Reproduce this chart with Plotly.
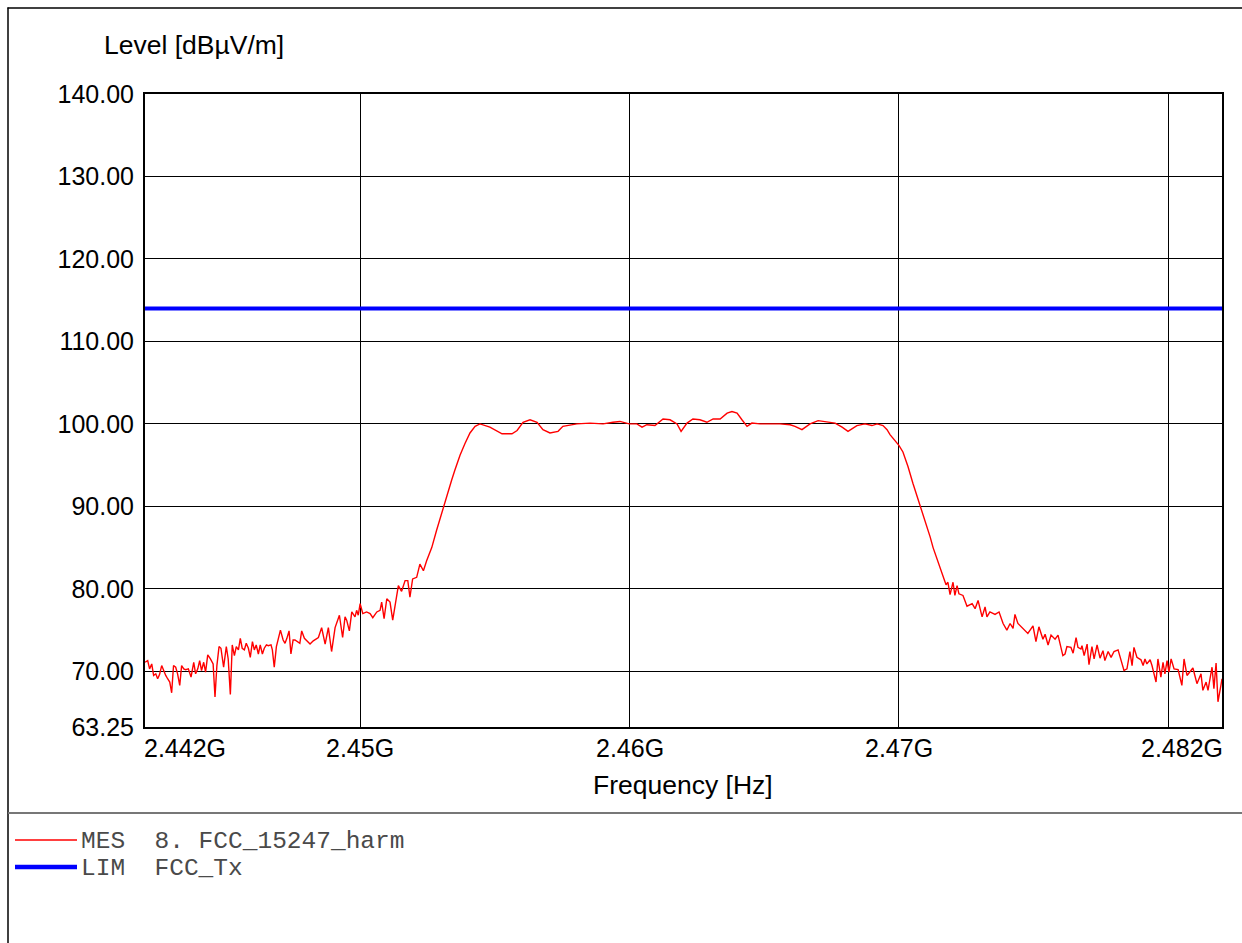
import plotly.graph_objects as go

# ---------------- data ----------------
freq_mhz = [
    2442.00, 2442.10, 2442.17, 2442.25, 2442.32, 2442.40, 2442.47, 2442.54, 2442.62, 2442.69,
    2442.77, 2442.84, 2442.92, 2442.99, 2443.06, 2443.14, 2443.21, 2443.29, 2443.36, 2443.44,
    2443.51, 2443.61, 2443.71, 2443.81, 2443.88, 2443.96, 2444.03, 2444.10, 2444.18, 2444.25,
    2444.33, 2444.43, 2444.53, 2444.60, 2444.67, 2444.75, 2444.82, 2444.92, 2445.02, 2445.09,
    2445.17, 2445.24, 2445.32, 2445.39, 2445.47, 2445.54, 2445.61, 2445.69, 2445.76, 2445.84,
    2445.91, 2445.99, 2446.06, 2446.13, 2446.21, 2446.28, 2446.36, 2446.43, 2446.51, 2446.58,
    2446.68, 2446.73, 2446.80, 2446.88, 2446.95, 2447.03, 2447.13, 2447.20, 2447.27, 2447.35,
    2447.42, 2447.50, 2447.57, 2447.67, 2447.75, 2447.82, 2447.92,
    2448.13, 2448.25, 2448.44, 2448.56, 2448.69, 2448.81, 2448.93, 2449.06, 2449.22, 2449.34,
    2449.43, 2449.49, 2449.59, 2449.68, 2449.80, 2449.86, 2449.92, 2449.99, 2450.09, 2450.23,
    2450.36, 2450.46, 2450.61, 2450.73, 2450.79, 2450.88, 2450.98, 2451.10, 2451.20, 2451.32,
    2451.41, 2451.53, 2451.66, 2451.76, 2451.84, 2451.94, 2452.09, 2452.21, 2452.34, 2452.46,
    2452.65, 2452.83, 2452.96, 2453.08, 2453.21, 2453.39, 2453.51, 2453.70, 2453.88, 2454.07,
    2454.26, 2454.44,
    2454.81, 2455.26, 2455.63, 2455.82, 2456.04, 2456.30, 2456.56, 2456.78, 2457.04, 2457.34,
    2457.52, 2458.04, 2458.53, 2459.01, 2459.38, 2459.64, 2459.98, 2460.27, 2460.46, 2460.64,
    2460.94, 2461.24, 2461.50, 2461.76, 2461.91, 2462.13, 2462.35, 2462.61, 2462.87, 2463.10,
    2463.36, 2463.62, 2463.80, 2463.99, 2464.17, 2464.36, 2464.54, 2464.84, 2465.21, 2465.58,
    2465.96, 2466.14, 2466.40, 2466.70, 2467.00, 2467.33, 2467.63, 2467.89, 2468.11, 2468.44,
    2468.74, 2469.00, 2469.19, 2469.41, 2469.56, 2469.67, 2469.86, 2470.00,
    2470.15, 2470.34, 2470.52, 2470.71, 2470.86, 2471.04, 2471.16, 2471.27, 2471.42, 2471.53,
    2471.64, 2471.75, 2471.82, 2471.90, 2472.01, 2472.08, 2472.16, 2472.23, 2472.38, 2472.53,
    2472.72, 2472.83, 2472.94, 2473.09, 2473.20, 2473.27, 2473.38, 2473.57, 2473.72, 2473.87,
    2474.01, 2474.13, 2474.24, 2474.31, 2474.42, 2474.61, 2474.79, 2474.98, 2475.09, 2475.20,
    2475.35, 2475.43, 2475.54, 2475.65, 2475.80, 2475.91,
    2476.09, 2476.17, 2476.24, 2476.39, 2476.47, 2476.58, 2476.65, 2476.76, 2476.80, 2476.88,
    2476.99, 2477.06, 2477.17, 2477.25, 2477.36, 2477.47, 2477.58, 2477.65, 2477.77, 2477.88,
    2477.99, 2478.14, 2478.29, 2478.36, 2478.47, 2478.58, 2478.66, 2478.73, 2478.84, 2478.99,
    2479.07, 2479.14, 2479.21, 2479.33, 2479.40, 2479.55, 2479.62, 2479.73, 2479.81, 2479.88,
    2479.96, 2480.03, 2480.11, 2480.22, 2480.37, 2480.51, 2480.59, 2480.70, 2480.92, 2481.07,
    2481.22, 2481.29, 2481.41, 2481.48, 2481.63, 2481.70, 2481.78, 2481.85, 2481.96, 2482.00,
]
level_dbuv = [
    71.1, 71.3, 70.3, 70.9, 69.5, 69.7, 69.1, 69.6, 70.7, 70.1,
    69.5, 69.1, 68.7, 67.4, 70.7, 70.5, 69.7, 68.3, 70.7, 70.3,
    70.2, 70.3, 69.3, 71.1, 69.7, 70.3, 71.3, 70.1, 71.1, 69.9,
    72.0, 71.5, 70.9, 66.9, 70.7, 73.0, 72.8, 70.5, 73.0, 71.5,
    67.2, 73.2, 71.9, 73.0, 72.6, 74.0, 72.8, 72.6, 73.4, 72.8,
    71.7, 73.6, 72.6, 73.2, 72.1, 73.2, 72.1, 72.8, 73.2, 73.1,
    73.2, 72.6, 70.5, 73.0, 74.0, 75.0, 73.8, 73.4, 74.0, 74.9,
    72.1, 73.8, 73.8, 73.6, 73.4, 74.9, 74.0,
    73.3, 73.7, 74.1, 75.3, 73.3, 75.3, 72.4, 75.3, 76.8, 74.1,
    76.6, 76.2, 74.9, 77.2, 76.6, 77.4, 76.8, 78.2, 77.0, 77.2,
    77.0, 76.5, 77.2, 77.4, 78.4, 76.4, 78.8, 78.4, 76.2, 78.9,
    80.4, 79.7, 81.0, 81.0, 79.0, 81.2, 81.4, 83.0, 82.2, 83.4,
    85.0, 87.1, 88.5, 90.0, 91.5, 93.2, 94.4, 96.2, 97.6, 98.9,
    99.7, 100.0,
    99.6, 98.8, 98.8, 99.2, 100.2, 100.5, 100.2, 99.3, 98.9, 99.1,
    99.7, 100.0, 100.1, 100.0, 100.2, 100.3, 100.0, 100.0, 99.6, 99.9,
    99.8, 100.6, 100.5, 100.0, 99.1, 100.1, 100.6, 100.5, 100.2, 100.6,
    100.6, 101.3, 101.5, 101.3, 100.5, 99.7, 100.1, 100.0, 100.0, 100.0,
    99.9, 99.7, 99.3, 100.0, 100.4, 100.2, 100.1, 99.6, 99.1, 99.8,
    100.0, 99.8, 100.0, 99.8, 99.3, 98.7, 97.9, 97.4,
    96.6, 94.8, 92.8, 90.9, 89.5, 87.7, 86.3, 85.0, 83.6, 82.6,
    81.4, 80.5, 80.8, 79.3, 80.8, 79.2, 80.4, 79.4, 79.2, 77.9,
    78.2, 77.6, 78.6, 76.6, 77.8, 76.6, 77.2, 76.9, 77.2, 75.8,
    75.0, 75.8, 75.2, 76.9, 75.8, 75.2, 74.6, 75.5, 73.6, 75.4,
    73.9, 74.5, 73.2, 74.4, 73.9, 74.4,
    71.9, 72.1, 73.0, 72.9, 72.2, 74.1, 72.9, 72.7, 73.1, 71.9,
    73.3, 70.8, 73.0, 71.5, 73.2, 71.6, 72.5, 71.3, 72.4, 71.7,
    72.4, 72.6, 70.7, 70.1, 70.3, 72.4, 70.7, 72.9, 71.7, 71.4,
    70.7, 71.5, 70.9, 71.4, 70.7, 68.7, 71.5, 69.3, 71.1, 69.7,
    71.3, 69.9, 71.5, 70.3, 70.2, 68.3, 71.5, 69.5, 70.4, 68.5,
    69.7, 67.7, 68.7, 67.7, 70.5, 67.9, 71.0, 66.3, 68.3, 69.1,
]
limit_freq_mhz = [2442.0, 2482.0]
limit_level = [114.0, 114.0]

x_range_mhz = [2442.0, 2482.0]
y_range = [63.25, 140.0]
y_tickvals = [63.25, 70, 80, 90, 100, 110, 120, 130, 140]
y_ticktext = ["63.25", "70.00", "80.00", "90.00", "100.00", "110.00", "120.00", "130.00", "140.00"]
x_grid_mhz = [2450, 2460, 2470, 2480]
x_label_mhz = [2442, 2450, 2460, 2470, 2482]
x_label_text = ["2.442G", "2.45G", "2.46G", "2.47G", "2.482G"]
y_title = "Level [dBµV/m]"
x_title = "Frequency [Hz]"
legend_rows = ["MES  8. FCC_15247_harm", "LIM  FCC_Tx"]

# ---------------- figure ----------------
W, H = 1242, 943
L, R, T, B = 145, 1222, 94, 727
pw, ph = R - L, B - T


def px(x):
    return (x - L) / pw


def py(y):
    return (B - y) / ph


fig = go.Figure()
fig.add_trace(go.Scatter(
    x=[f * 1e6 for f in limit_freq_mhz], y=limit_level, mode="lines",
    line=dict(color="#0000ff", width=4), hoverinfo="skip", showlegend=False))
fig.add_trace(go.Scatter(
    x=[f * 1e6 for f in freq_mhz], y=level_dbuv, mode="lines",
    line=dict(color="#ff0000", width=1.4), showlegend=False))

axis_font = dict(family="Liberation Sans, Arial, sans-serif", size=25, color="black")
title_font = dict(family="Liberation Sans, Arial, sans-serif", size=26.5, color="black")

fig.update_layout(
    width=W, height=H,
    margin=dict(l=L, r=W - R, t=T, b=H - B, pad=0),
    paper_bgcolor="white", plot_bgcolor="white",
    font=axis_font,
    xaxis=dict(
        range=[x_range_mhz[0] * 1e6, x_range_mhz[1] * 1e6],
        tickvals=[v * 1e6 for v in x_grid_mhz], showticklabels=False,
        showgrid=True, gridcolor="black", gridwidth=1.3, zeroline=False,
        showline=True, mirror=True, linecolor="black", linewidth=2, ticks=""),
    yaxis=dict(
        range=y_range, tickvals=y_tickvals, ticktext=y_ticktext,
        showgrid=True, gridcolor="black", gridwidth=1.3, zeroline=False,
        showline=True, mirror=True, linecolor="black", linewidth=2,
        ticks="", tickfont=axis_font, ticklabelstandoff=4),
)

ann = []
n_lab = len(x_label_text)
for i, (v, t) in enumerate(zip(x_label_mhz, x_label_text)):
    if i == 0:
        anchor, shift = "left", -3
    elif i == n_lab - 1:
        anchor, shift = "right", 3
    else:
        anchor, shift = "center", 0
    ann.append(dict(x=v * 1e6, xref="x", y=py(748), yref="paper", text=t,
                    showarrow=False, xanchor=anchor, yanchor="middle", xshift=shift,
                    font=axis_font))
ann.append(dict(x=px(102), xref="paper", y=py(45), yref="paper", text=y_title,
                showarrow=False, xanchor="left", yanchor="middle", font=title_font))
ann.append(dict(x=px(683), xref="paper", y=py(785), yref="paper", text=x_title,
                showarrow=False, xanchor="center", yanchor="middle", font=title_font))

mono = dict(family="Liberation Mono, Courier New, monospace", size=24.5, color="#4a4a4a")
legend_y = [841, 868]
legend_col = ["#ff0000", "#0000ff"]
legend_w = [1.4, 4.5]
shapes = []
for i, txt in enumerate(legend_rows):
    ann.append(dict(x=px(79), xref="paper", y=py(legend_y[i]), yref="paper",
                    text=txt.replace(" ", "\u00a0"), showarrow=False,
                    xanchor="left", yanchor="middle", font=mono))
    shapes.append(dict(type="line", xref="paper", yref="paper",
                       x0=px(15), x1=px(77), y0=py(legend_y[i] - 1), y1=py(legend_y[i] - 1),
                       line=dict(color=legend_col[i], width=legend_w[i])))

# outer frame and separator
shapes.append(dict(type="line", xref="paper", yref="paper", x0=px(8), x1=px(8),
                   y0=py(7.5), y1=py(960), line=dict(color="black", width=1.5)))
shapes.append(dict(type="line", xref="paper", yref="paper", x0=px(7.5), x1=px(1260),
                   y0=py(8), y1=py(8), line=dict(color="black", width=1.5)))
shapes.append(dict(type="line", xref="paper", yref="paper", x0=px(8), x1=px(1260),
                   y0=py(813), y1=py(813), line=dict(color="#777777", width=2)))

fig.update_layout(annotations=ann, shapes=shapes)

fig.write_html("out.html", config={"displayModeBar": False},
               post_script="document.body.style.margin='0';document.body.style.overflow='hidden';")
